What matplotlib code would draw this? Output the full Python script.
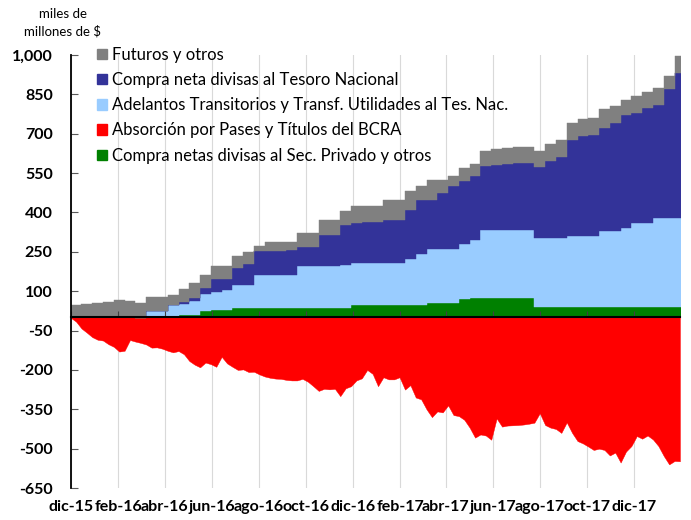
import matplotlib.pyplot as plt
import matplotlib.patches as mpatches
from matplotlib.ticker import FuncFormatter
import numpy as np
import pandas as pd

plt.rcParams['font.family'] = ['Lato', 'DejaVu Sans']

# Fechas: series apiladas cada 14 días, absorción semanal
fechas_pos = pd.date_range('2015-12-01', periods=58, freq='14D')
fechas_abs = pd.date_range('2015-12-01', periods=114, freq='7D')

# Series positivas (miles de millones de $), orden de apilado de abajo hacia arriba
compra_privado = [0, 0, 0, 0, 0, 0, -3, 0, 0, 5, 8, 11, 24, 30, 30, 36, 36, 36, 36, 36,
                  36, 36, 36, 36, 36, 36, 47, 47, 47, 47, 47, 47, 47, 56, 56, 56, 71, 75, 75, 75,
                  75, 75, 75, 41, 41, 41, 41, 41, 41, 41, 41, 41, 41, 41, 41, 41, 41, 41]
adelantos = [2, 2, 3, 3, 3, 3, 5, 24, 24, 41, 42, 51, 64, 66, 74, 86, 86, 124, 124, 124,
             124, 159, 159, 159, 159, 163, 161, 161, 161, 161, 161, 174, 193, 203, 203, 203, 207, 222, 260, 260,
             260, 260, 260, 262, 262, 262, 271, 271, 271, 288, 288, 301, 319, 319, 339, 339, 339, 339]
compra_tesoro = [0, 0, 0, 0, 0, 0, 0, 0, 0, 0, 10, 13, 25, 51, 43, 67, 80, 92, 92, 92,
                 98, 73, 73, 121, 121, 155, 152, 154, 154, 165, 165, 190, 209, 190, 216, 241, 241, 241, 241, 245,
                 249, 253, 254, 272, 292, 307, 366, 378, 385, 393, 411, 428, 419, 440, 431, 490, 552, 552]
futuros = [46, 51, 53, 57, 62, 61, 54, 55, 55, 38, 50, 57, 47, 48, 48, 44, 47, 20, 36, 36,
           30, 54, 54, 55, 55, 51, 64, 62, 62, 76, 76, 70, 51, 74, 48, 38, 51, 48, 59, 60,
           60, 62, 61, 60, 65, 65, 63, 65, 63, 73, 65, 60, 64, 60, 64, 50, 63, 63]

# Absorción por pases y títulos (negativa)
absorcion = [-1, -16, -42, -58, -75, -85, -88, -102, -112, -130,
             -127, -86, -92, -97, -103, -115, -114, -119, -127, -133,
             -128, -140, -166, -180, -190, -172, -178, -188, -150, -175,
             -188, -200, -198, -208, -207, -217, -225, -230, -233, -234,
             -238, -240, -240, -234, -245, -262, -280, -272, -274, -272,
             -300, -270, -262, -240, -232, -200, -215, -262, -228, -236,
             -236, -228, -275, -258, -305, -312, -350, -380, -358, -362,
             -335, -372, -376, -390, -420, -458, -446, -450, -466, -385,
             -416, -412, -411, -410, -408, -405, -401, -365, -410, -420,
             -425, -440, -400, -440, -471, -480, -492, -505, -500, -505,
             -526, -515, -553, -511, -490, -452, -462, -450, -465, -490,
             -528, -560, -547, -548]

fechas_ticks = pd.date_range('2015-12-01', '2017-12-01', freq='2MS')
etiquetas_x = ['dic-15', 'feb-16', 'abr-16', 'jun-16', 'ago-16', 'oct-16', 'dic-16',
               'feb-17', 'abr-17', 'jun-17', 'ago-17', 'oct-17', 'dic-17']

# Figura
fig = plt.figure(figsize=(6.91, 5.2), dpi=100)
ax = fig.add_axes([0.1023, 0.0615, 0.8817, 0.8327])

# Líneas de grilla verticales detrás de todo
for f in fechas_ticks:
    ax.axvline(f, color='#d9d9d9', lw=0.8, zorder=0.5)

# Absorción
ax.fill_between(fechas_abs, absorcion, 0, color='#ff0000', lw=0.3, edgecolor='#ff0000')

# Series apiladas
capas = [
    (compra_privado, '#008000'),
    (adelantos, '#99ccff'),
    (compra_tesoro, '#333399'),
    (futuros, '#808080'),
]
base = np.zeros(len(fechas_pos))
for valores, color in capas:
    tope = base + np.array(valores)
    ax.fill_between(fechas_pos, base, tope, step='post', color=color, lw=0.3, edgecolor=color)
    base = tope

# Ejes
ax.set_xlim(pd.Timestamp('2015-12-01'), pd.Timestamp('2018-01-30'))
ax.set_ylim(-650, 1000)
ax.set_yticks(range(-650, 1001, 150))
ax.yaxis.set_major_formatter(FuncFormatter(lambda v, p: f'{v:,.0f}'))
ax.tick_params(axis='y', direction='in', length=5, width=0.8, color='#595959',
               pad=13, labelsize=11.5)
for lab in ax.get_yticklabels():
    lab.set_fontweight('bold')

ax.set_xticks(fechas_ticks)
ax.tick_params(axis='x', direction='in', length=4, width=0.8, color='#404040',
               labelbottom=False)
ax.spines['bottom'].set_position(('data', 0))
ax.spines['bottom'].set_linewidth(1.5)
ax.spines['bottom'].set_color('black')
ax.spines['left'].set_linewidth(1.3)
ax.spines['top'].set_visible(False)
ax.spines['right'].set_visible(False)

# Etiquetas del eje x abajo
for f, lab in zip(fechas_ticks, etiquetas_x):
    ax.text(f, -0.044, lab, transform=ax.get_xaxis_transform(), ha='center', va='center',
            fontsize=11.5, fontweight='bold', clip_on=False)

# Unidad
fig.text(63 / 691, 1 - 23 / 520, 'miles de\nmillones de $', ha='center', va='center',
         fontsize=9.5, linespacing=1.45)

# Leyenda
handles = [
    mpatches.Patch(color='#808080', label='Futuros y otros'),
    mpatches.Patch(color='#333399', label='Compra neta divisas al Tesoro Nacional'),
    mpatches.Patch(color='#99ccff', label='Adelantos Transitorios y Transf. Utilidades al Tes. Nac.'),
    mpatches.Patch(color='#ff0000', label='Absorción por Pases y Títulos del BCRA'),
    mpatches.Patch(color='#008000', label='Compra netas divisas al Sec. Privado y otros'),
]
fig.legend(handles=handles, loc='upper left', bbox_to_anchor=(97 / 691, 1 - 47 / 520),
           frameon=False, fontsize=12, handlelength=0.58, handleheight=0.58,
           handletextpad=0.35, labelspacing=0.55, borderpad=0, borderaxespad=0)

plt.savefig('out.png', dpi=100)
plt.close()
